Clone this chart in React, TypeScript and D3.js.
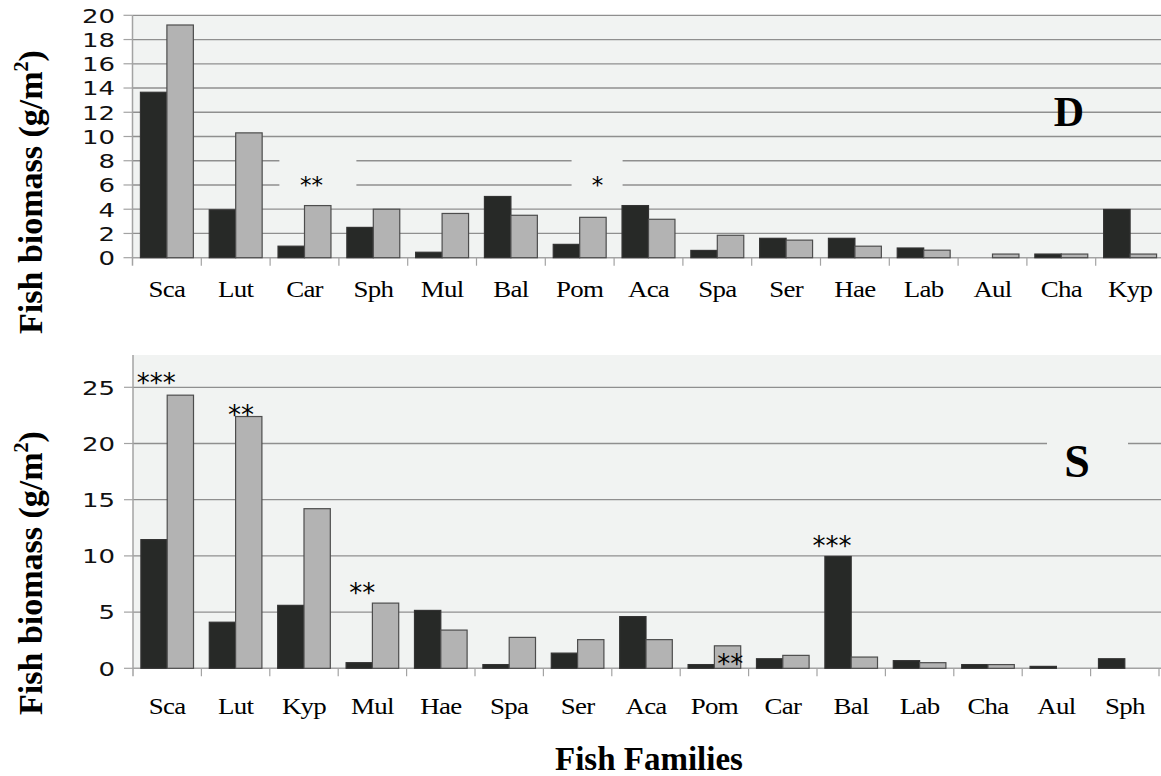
import React from "react";
import { scaleBand, scaleLinear } from "d3";

// panel D
const familiesD = ["Sca", "Lut", "Car", "Sph", "Mul", "Bal", "Pom", "Aca", "Spa", "Ser", "Hae", "Lab", "Aul", "Cha", "Kyp"];
const darkD = [13.65, 3.95, 0.95, 2.5, 0.45, 5.05, 1.1, 4.3, 0.6, 1.6, 1.6, 0.8, 0, 0.3, 3.98];
const lightD = [19.2, 10.3, 4.3, 4.0, 3.65, 3.5, 3.33, 3.17, 1.85, 1.45, 0.95, 0.62, 0.3, 0.3, 0.3];
const ticksD = [0, 2, 4, 6, 8, 10, 12, 14, 16, 18, 20];

// panel S
const familiesS = ["Sca", "Lut", "Kyp", "Mul", "Hae", "Spa", "Ser", "Aca", "Pom", "Car", "Bal", "Lab", "Cha", "Aul", "Sph"];
const darkS = [11.45, 4.1, 5.6, 0.5, 5.15, 0.33, 1.35, 4.6, 0.33, 0.85, 9.95, 0.68, 0.33, 0.17, 0.85];
const lightS = [24.3, 22.4, 14.2, 5.8, 3.4, 2.75, 2.55, 2.55, 2.0, 1.15, 1.0, 0.5, 0.33, 0, 0];
const ticksS = [0, 5, 10, 15, 20, 25];

const series = ["dark", "light"];

// significance marks: category, text, height (data units), position across the band
const marksD = [
  { cat: "Car", text: "**", v: 6.25, at: 0.6, box: [32, 45] },
  { cat: "Pom", text: "*", v: 6.25, at: 0.76, box: [26, 25] },
];
const marksS = [
  { cat: "Sca", text: "***", v: 25.65, at: 0.34 },
  { cat: "Lut", text: "**", v: 22.8, at: 0.58 },
  { cat: "Mul", text: "**", v: 7.0, at: 0.35 },
  { cat: "Pom", text: "**", v: 0.65, at: 0.73 },
  { cat: "Bal", text: "***", v: 11.15, at: 0.22 },
];

const BG = "#f1f3f2";
const GRID = "#8f8f8f";
const AXIS = "#a3a3a3";
const SERIF = "'Liberation Serif', 'Times New Roman', serif";

type PanelProps = {
  families: string[];
  dark: number[];
  light: number[];
  ticks: number[];
  marks: any[];
  x0: number;
  x1: number;
  yZero: number;
  yTop: number;
  yMax: number;
  bgTop: number;
  labelY: number;
  markSize: number;
  letter: string;
  letterX: number;
  letterY: number;
  letterSize: number;
  letterBox?: number[];
  boxRange?: number[];
};

const Panel = (p: PanelProps) => {
  const x = scaleBand<string>().domain(p.families).range([p.x0, p.x1]).padding(0);
  const inner = scaleBand<string>().domain(series).range([0, x.bandwidth()]).paddingInner(0).paddingOuter(0.3);
  const y = scaleLinear().domain([0, p.yMax]).range([p.yZero, p.yTop]);
  const right = 1161;

  return (
    <g>
      <rect x={p.x0} y={p.bgTop} width={right - p.x0} height={p.yZero - p.bgTop} fill={BG} />
      {p.ticks.map((t) => (
        <g key={t}>
          {t > 0 && <line x1={p.x0} x2={right} y1={y(t)} y2={y(t)} stroke={GRID} strokeWidth={1.3} />}
          <line x1={p.x0 - 9} x2={p.x0} y1={y(t)} y2={y(t)} stroke={AXIS} strokeWidth={1.2} />
          <text
            transform={`translate(115,${y(t)}) scale(1.3,1)`}
            textAnchor="end"
            dominantBaseline="central"
            fontFamily="'DejaVu Sans', Verdana, sans-serif"
            fontSize={20}
            fill="#111"
          >
            {t}
          </text>
        </g>
      ))}
      {p.marks
        .filter((m) => m.box)
        .map((m, i) => {
          const cx = (x(m.cat) as number) + x.step() * m.at;
          return (
            <rect
              key={"b" + i}
              x={cx - m.box[0]}
              width={m.box[0] + m.box[1]}
              y={y(p.boxRange![1])}
              height={y(p.boxRange![0]) - y(p.boxRange![1])}
              fill={BG}
            />
          );
        })}
      {p.letterBox && (
        <rect
          x={p.letterBox[0]}
          y={p.letterBox[1]}
          width={p.letterBox[2]}
          height={p.letterBox[3]}
          fill={BG}
        />
      )}
      <line x1={p.x0} x2={right} y1={p.yZero} y2={p.yZero} stroke={AXIS} strokeWidth={1.5} />
      <line x1={p.x0} x2={p.x0} y1={p.bgTop} y2={p.yZero + 8} stroke={AXIS} strokeWidth={1.5} />
      {p.families.map((f, i) => {
        const bx = x(f) as number;
        const vals = [p.dark[i], p.light[i]];
        return (
          <g key={f + i}>
            <line x1={bx + x.step()} x2={bx + x.step()} y1={p.yZero} y2={p.yZero + 8} stroke={AXIS} strokeWidth={1.2} />
            {series.map((s, j) =>
              vals[j] > 0 ? (
                <rect
                  key={s}
                  x={bx + (inner(s) as number)}
                  width={inner.bandwidth()}
                  y={y(vals[j])}
                  height={p.yZero - y(vals[j])}
                  fill={j === 0 ? "#272927" : "#b3b3b3"}
                  stroke={j === 0 ? "#333" : "#4d4d4d"}
                  strokeWidth={1.2}
                />
              ) : null
            )}
            <text
              transform={`translate(${bx + x.step() / 2},${p.labelY}) scale(1.17,1)`}
              textAnchor="middle"
              fontFamily={SERIF}
              fontSize={23}
              letterSpacing={-0.6}
              fill="#000"
            >
              {f}
            </text>
          </g>
        );
      })}
      {p.marks.map((m, i) => (
        <text
          key={"m" + i}
          x={(x(m.cat) as number) + x.step() * m.at}
          y={y(m.v) + p.markSize * 0.46}
          textAnchor="middle"
          fontFamily="'DejaVu Sans', sans-serif"
          fontSize={p.markSize}
          fill="#000"
        >
          {m.text}
        </text>
      ))}
      <text
        x={p.letterX}
        y={p.letterY}
        textAnchor="middle"
        fontFamily={SERIF}
        fontWeight="bold"
        fontSize={p.letterSize}
        fill="#000"
      >
        {p.letter}
      </text>
    </g>
  );
};

const YTitle = ({ cy }: { cy: number }) => (
  <text
    transform={`translate(42,${cy}) rotate(-90)`}
    textAnchor="middle"
    fontFamily={SERIF}
    fontWeight="bold"
    fontSize={34}
    fill="#000"
  >
    Fish biomass (g/m
    <tspan fontSize={20} dy={-14}>2</tspan>
    <tspan dy={14}>)</tspan>
  </text>
);

export default function App() {
  return (
    <svg width={1161} height={776} style={{ position: "absolute", left: 0, top: 0, background: "#fff" }}>
      <Panel
        families={familiesD}
        dark={darkD}
        light={lightD}
        ticks={ticksD}
        marks={marksD}
        x0={132.5}
        x1={1164.5}
        yZero={257.7}
        yTop={15.3}
        yMax={20}
        bgTop={15.3}
        labelY={297}
        markSize={23}
        letter="D"
        letterX={1069}
        letterY={126}
        letterSize={42}
        boxRange={[5.1, 8.9]}
      />
      <Panel
        families={familiesS}
        dark={darkS}
        light={lightS}
        ticks={ticksS}
        marks={marksS}
        x0={133}
        x1={1159}
        yZero={668.3}
        yTop={387.3}
        yMax={25}
        bgTop={355}
        labelY={714}
        markSize={26}
        letter="S"
        letterX={1077}
        letterY={477}
        letterSize={46}
        letterBox={[1047, 425, 81, 65]}
      />
      <YTitle cy={192} />
      <YTitle cy={573} />
      <text
        x={649}
        y={770}
        textAnchor="middle"
        fontFamily={SERIF}
        fontWeight="bold"
        fontSize={33}
        fill="#000"
      >
        Fish Families
      </text>
    </svg>
  );
}
